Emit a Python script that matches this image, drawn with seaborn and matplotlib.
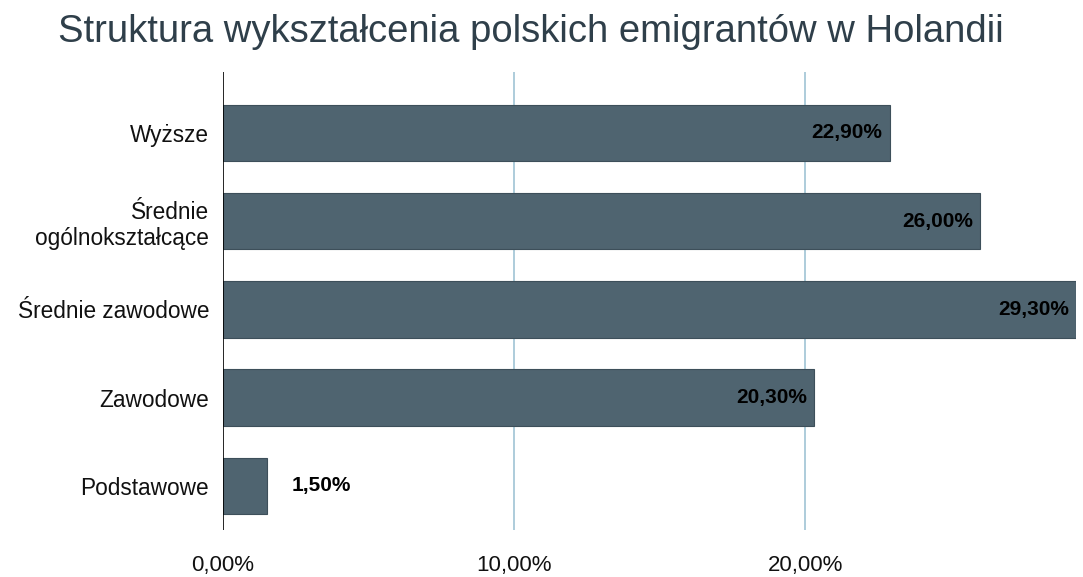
import matplotlib
matplotlib.use("Agg")
import matplotlib.pyplot as plt
import seaborn as sns
import pandas as pd

# Data
categories = ["Wyższe", "Średnie\nogólnokształcące", "Średnie zawodowe", "Zawodowe", "Podstawowe"]
values = [22.9, 26.0, 29.3, 20.3, 1.5]
xticks = [0, 10, 20]

sns.set_style("white")
plt.rcParams['font.family'] = ['Liberation Sans', 'DejaVu Sans']

df = pd.DataFrame({"kategoria": categories, "procent": values})

fig = plt.figure(figsize=(10.83, 5.77), dpi=100)
ax = fig.add_axes([0.206, 0.0815, 0.7875, 0.7935])

sns.barplot(data=df, y="kategoria", x="procent", orient="h", color="#4f6470",
            saturation=1, width=0.64, edgecolor="#3d4f5a", linewidth=0.8, ax=ax)

ax.set_xlim(0, 29.3)
ax.set_ylim(4.5, -0.69)
ax.set_xticks(xticks)
ax.set_xticklabels([f"{t:.2f}%".replace(".", ",") for t in xticks], fontsize=16)
ax.tick_params(axis="y", labelsize=16.3, length=0, pad=10, labelcolor="#111111")
ax.tick_params(axis="x", length=0, pad=18, labelcolor="#111111")
ax.set_xlabel("")
ax.set_ylabel("")

for t in xticks[1:]:
    ax.axvline(t, color="#9fc3d4", linewidth=1.2, zorder=0)
ax.axvline(0, color="black", linewidth=1.2, zorder=3)

for s in ax.spines.values():
    s.set_visible(False)

for i, v in enumerate(values):
    label = f"{v:.2f}%".replace(".", ",")
    if v > 5:
        ax.text(v - 0.25, i, label, ha="right", va="center", fontsize=15,
                fontweight="bold", color="black")
    else:
        ax.text(v + 0.85, i, label, ha="left", va="center", fontsize=15,
                fontweight="bold", color="black")

fig.text(0.49, 0.945, "Struktura wykształcenia polskich emigrantów w Holandii",
         ha="center", va="center", fontsize=27.5, color="#2f3f4a")

fig.savefig("out.png", dpi=100)
plt.close(fig)
